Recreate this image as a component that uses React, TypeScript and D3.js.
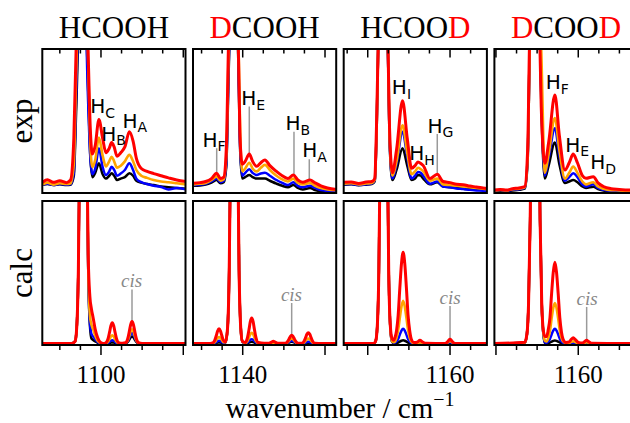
import React from 'react';
import * as d3 from 'd3';

// ---------- layout ----------
const WIDTH = 630;
const HEIGHT = 423;
const PANEL_LEFT = 42.3;
const PANEL_W = 143.2;
const PANEL_STEP = 150.7;
const ROW_TOP = [49, 201];
const ROW_H = 144;
const PX_PER_CM = 8.23;

const SERIF = '"Liberation Serif", "Times New Roman", serif';
const SANS = '"DejaVu Sans", sans-serif';

// series order: drawn first to last
const seriesColors = ['#000000', '#0000ff', '#ffa500', '#ff0000'];
const seriesWidths = [2.5, 2.5, 2.6, 3];

// ---------- panels ----------
const titles = ['HCOOH', 'DCOOH', 'HCOOD', 'DCOOD'];
const panelStarts = [1092.87, 1133.96, 1147.08, 1149.81];
const tickLabelValues = [1100, 1140, 1160, 1160];

// ---------- experimental spectra ----------
const hcoohExpWn = [1092.9, 1093.5, 1094.2, 1095.0, 1095.8, 1096.3, 1096.7, 1097.0, 1097.5, 1098.0, 1098.4, 1098.7, 1098.95, 1099.3, 1099.75, 1100.2, 1100.6, 1101.0, 1101.3, 1101.6, 1101.95, 1102.4, 1102.9, 1103.45, 1103.9, 1104.3, 1104.9, 1105.6, 1106.4, 1107.3, 1108.2, 1109.2, 1110.3];
const hcoohExpBlack = [0.058, 0.062, 0.056, 0.06, 0.056, 0.058, 0.12, 0.6, 1.5, 1.5, 0.8, 0.26, 0.11, 0.14, 0.206, 0.13, 0.1, 0.12, 0.137, 0.12, 0.09, 0.1, 0.11, 0.137, 0.12, 0.085, 0.072, 0.062, 0.055, 0.045, 0.04, 0.035, 0.03];
const hcoohExpBlue = [0.058, 0.065, 0.055, 0.062, 0.058, 0.06, 0.14, 0.7, 1.6, 1.5, 0.7, 0.25, 0.13, 0.17, 0.31, 0.18, 0.125, 0.15, 0.183, 0.16, 0.12, 0.135, 0.16, 0.206, 0.16, 0.1, 0.075, 0.062, 0.05, 0.042, 0.025, 0.035, 0.025];
const hcoohExpOrange = [0.06, 0.072, 0.058, 0.068, 0.062, 0.066, 0.2, 0.85, 1.6, 1.6, 1.0, 0.35, 0.18, 0.23, 0.385, 0.26, 0.185, 0.22, 0.252, 0.22, 0.175, 0.19, 0.22, 0.265, 0.22, 0.16, 0.12, 0.105, 0.09, 0.08, 0.075, 0.068, 0.06];
const hcoohExpRed = [0.075, 0.092, 0.074, 0.085, 0.072, 0.09, 0.38, 1.05, 1.6, 1.6, 1.05, 0.45, 0.27, 0.33, 0.51, 0.38, 0.28, 0.31, 0.35, 0.32, 0.255, 0.28, 0.32, 0.425, 0.36, 0.24, 0.17, 0.15, 0.135, 0.12, 0.105, 0.09, 0.08];

const dcoohExpWn = [1134.0, 1134.8, 1135.5, 1136.2, 1136.84, 1137.3, 1137.7, 1138.0, 1138.3, 1138.8, 1139.45, 1139.7, 1139.95, 1140.3, 1140.8, 1141.2, 1141.7, 1142.2, 1142.7, 1143.3, 1144.1, 1144.8, 1145.5, 1146.15, 1146.7, 1147.3, 1148.18, 1148.8, 1149.5, 1150.3, 1151.4];
const dcoohExpBlack = [0.05, 0.052, 0.058, 0.072, 0.09, 0.068, 0.075, 0.18, 0.85, 1.7, 0.95, 0.28, 0.1, 0.11, 0.125, 0.11, 0.1, 0.1, 0.1, 0.085, 0.065, 0.05, 0.04, 0.055, 0.035, 0.025, 0.035, 0.02, 0.01, 0.006, 0.005];
const dcoohExpBlue = [0.055, 0.058, 0.064, 0.08, 0.1, 0.075, 0.085, 0.2, 0.9, 1.7, 1.0, 0.3, 0.12, 0.14, 0.165, 0.14, 0.125, 0.135, 0.14, 0.12, 0.09, 0.07, 0.055, 0.075, 0.05, 0.04, 0.05, 0.035, 0.02, 0.015, 0.01];
const dcoohExpOrange = [0.06, 0.064, 0.07, 0.09, 0.115, 0.085, 0.095, 0.25, 1.0, 1.7, 1.15, 0.4, 0.15, 0.17, 0.21, 0.17, 0.15, 0.175, 0.195, 0.16, 0.12, 0.095, 0.08, 0.1, 0.07, 0.06, 0.07, 0.05, 0.035, 0.025, 0.02];
const dcoohExpRed = [0.067, 0.072, 0.08, 0.1, 0.137, 0.1, 0.11, 0.3, 1.1, 1.7, 1.05, 0.35, 0.2, 0.22, 0.27, 0.22, 0.185, 0.21, 0.23, 0.19, 0.15, 0.12, 0.1, 0.125, 0.09, 0.075, 0.09, 0.07, 0.05, 0.035, 0.025];

const hcoodExpWn = [1147.1, 1148.0, 1148.9, 1149.8, 1150.5, 1150.85, 1151.1, 1151.3, 1151.85, 1152.45, 1152.65, 1153.0, 1153.5, 1154.23, 1154.8, 1155.33, 1155.75, 1156.1, 1156.45, 1156.75, 1157.56, 1158.45, 1159.15, 1160.0, 1160.8, 1161.6, 1162.4, 1163.2, 1164.0, 1164.6];
const hcoodExpBlack = [0.058, 0.06, 0.054, 0.058, 0.062, 0.08, 0.48, 1.1, 1.7, 1.0, 0.36, 0.09, 0.16, 0.31, 0.19, 0.09, 0.1, 0.125, 0.12, 0.1, 0.06, 0.075, 0.045, 0.04, 0.035, 0.03, 0.026, 0.022, 0.02, 0.018];
const hcoodExpBlue = [0.06, 0.062, 0.055, 0.06, 0.066, 0.085, 0.5, 1.1, 1.7, 1.0, 0.38, 0.1, 0.2, 0.426, 0.25, 0.1, 0.12, 0.145, 0.14, 0.12, 0.065, 0.08, 0.045, 0.04, 0.032, 0.028, 0.022, 0.018, 0.015, 0.012];
const hcoodExpOrange = [0.065, 0.068, 0.06, 0.066, 0.07, 0.09, 0.5, 1.1, 1.7, 1.05, 0.4, 0.12, 0.22, 0.47, 0.28, 0.13, 0.15, 0.175, 0.165, 0.15, 0.085, 0.1, 0.06, 0.055, 0.05, 0.045, 0.04, 0.035, 0.03, 0.025];
const hcoodExpRed = [0.075, 0.076, 0.066, 0.076, 0.08, 0.1, 0.55, 1.1, 1.7, 1.05, 0.45, 0.14, 0.3, 0.64, 0.38, 0.172, 0.19, 0.215, 0.205, 0.19, 0.1, 0.13, 0.08, 0.072, 0.06, 0.058, 0.048, 0.042, 0.035, 0.03];

const dcoodExpWn = [1149.76, 1150.5, 1151.3, 1152.0, 1152.8, 1153.5, 1153.85, 1154.1, 1154.7, 1155.33, 1155.5, 1155.94, 1156.4, 1157.16, 1157.7, 1158.38, 1158.9, 1159.39, 1159.9, 1160.5, 1160.94, 1161.83, 1162.4, 1163.05, 1164.0, 1165.0, 1166.0, 1167.2];
const dcoodExpBlack = [0.012, 0.016, 0.013, 0.018, 0.022, 0.03, 0.22, 1.0, 1.7, 1.1, 0.65, 0.1, 0.19, 0.35, 0.2, 0.07, 0.08, 0.09, 0.075, 0.045, 0.035, 0.044, 0.028, 0.018, 0.012, 0.01, 0.008, 0.008];
const dcoodExpBlue = [0.015, 0.02, 0.016, 0.022, 0.026, 0.035, 0.25, 1.0, 1.7, 1.1, 0.7, 0.12, 0.24, 0.45, 0.26, 0.085, 0.11, 0.137, 0.11, 0.06, 0.045, 0.06, 0.035, 0.022, 0.015, 0.012, 0.01, 0.01];
const dcoodExpOrange = [0.018, 0.022, 0.018, 0.026, 0.03, 0.04, 0.25, 1.0, 1.7, 1.3, 1.0, 0.14, 0.27, 0.52, 0.3, 0.1, 0.14, 0.183, 0.14, 0.08, 0.06, 0.075, 0.045, 0.03, 0.02, 0.018, 0.015, 0.015];
const dcoodExpRed = [0.02, 0.025, 0.02, 0.03, 0.035, 0.045, 0.3, 1.1, 1.7, 1.05, 0.6, 0.206, 0.35, 0.68, 0.4, 0.16, 0.21, 0.27, 0.21, 0.12, 0.102, 0.113, 0.07, 0.045, 0.03, 0.025, 0.02, 0.02];

// ---------- calculated spectra ----------
const hcoohCalcWn = [1092.87, 1096.4, 1096.85, 1097.05, 1097.25, 1097.45, 1097.65, 1097.85, 1098.05, 1098.25, 1098.45, 1098.65, 1098.85, 1099.05, 1099.3, 1099.6, 1099.9, 1100.3, 1100.6, 1100.85, 1101.05, 1101.2, 1101.37, 1101.55, 1101.7, 1101.9, 1102.15, 1102.6, 1103.0, 1103.25, 1103.45, 1103.6, 1103.77, 1103.95, 1104.1, 1104.3, 1104.55, 1105.0, 1110.27];
const hcoohCalcBlack = [0, 0, 0.015, 0.11, 0.51, 1.56, 3.04, 3.8, 3.04, 1.56, 0.51, 0.13, 0.035, 0.025, 0.015, 0.005, 0, 0, 0, 0.002, 0.004, 0.007, 0.008, 0.007, 0.004, 0.002, 0, 0, 0.002, 0.011, 0.028, 0.043, 0.05, 0.043, 0.028, 0.011, 0.002, 0, 0];
const hcoohCalcBlue = [0, 0, 0.015, 0.11, 0.51, 1.56, 3.04, 3.8, 3.04, 1.56, 0.52, 0.15, 0.065, 0.05, 0.03, 0.01, 0.002, 0, 0.001, 0.005, 0.013, 0.02, 0.023, 0.02, 0.013, 0.005, 0.001, 0, 0.003, 0.017, 0.042, 0.064, 0.075, 0.064, 0.042, 0.017, 0.003, 0, 0];
const hcoohCalcOrange = [0, 0, 0.015, 0.11, 0.51, 1.56, 3.04, 3.8, 3.04, 1.56, 0.54, 0.2, 0.13, 0.1, 0.055, 0.02, 0.005, 0, 0.002, 0.013, 0.032, 0.049, 0.058, 0.049, 0.032, 0.013, 0.002, 0, 0.004, 0.022, 0.056, 0.085, 0.1, 0.085, 0.056, 0.022, 0.004, 0, 0];
const hcoohCalcRed = [0, 0, 0.015, 0.11, 0.51, 1.56, 3.04, 3.8, 3.04, 1.56, 0.61, 0.33, 0.24, 0.18, 0.1, 0.04, 0.01, 0, 0.006, 0.032, 0.082, 0.124, 0.146, 0.124, 0.082, 0.032, 0.006, 0.002, 0.006, 0.034, 0.087, 0.132, 0.155, 0.132, 0.087, 0.034, 0.006, 0, 0];

const dcoohCalcWn = [1133.96, 1135.8, 1136.35, 1136.6, 1136.8, 1136.95, 1137.12, 1137.3, 1137.45, 1137.65, 1137.9, 1138.16, 1138.36, 1138.56, 1138.76, 1138.96, 1139.16, 1139.36, 1139.56, 1139.76, 1139.96, 1140.32, 1140.57, 1140.77, 1140.92, 1141.09, 1141.27, 1141.42, 1141.62, 1141.87, 1142.6, 1143.2, 1143.5, 1143.72, 1143.95, 1144.25, 1145.18, 1145.43, 1145.63, 1145.78, 1145.95, 1146.13, 1146.28, 1146.48, 1146.73, 1147.2, 1147.45, 1147.65, 1147.8, 1147.97, 1148.15, 1148.3, 1148.5, 1148.75, 1151.4];
const dcoohCalcBlack = [0, 0, 0, 0.002, 0.004, 0.007, 0.008, 0.007, 0.004, 0.002, 0.007, 0.11, 0.51, 1.56, 3.04, 3.8, 3.04, 1.56, 0.51, 0.11, 0.015, 0, 0.003, 0.007, 0.01, 0.012, 0.01, 0.007, 0.003, 0, 0, 0, 0, 0, 0, 0, 0, 0.003, 0.007, 0.01, 0.012, 0.01, 0.007, 0.003, 0, 0, 0.001, 0.003, 0.004, 0.005, 0.004, 0.003, 0.001, 0, 0];
const dcoohCalcBlue = [0, 0, 0.001, 0.004, 0.011, 0.017, 0.02, 0.017, 0.011, 0.004, 0.008, 0.11, 0.51, 1.56, 3.04, 3.8, 3.04, 1.56, 0.51, 0.11, 0.015, 0.001, 0.007, 0.017, 0.026, 0.03, 0.026, 0.017, 0.007, 0.001, 0, 0, 0.001, 0.002, 0.001, 0, 0.001, 0.004, 0.011, 0.017, 0.02, 0.017, 0.011, 0.004, 0.001, 0.001, 0.003, 0.007, 0.011, 0.013, 0.011, 0.007, 0.003, 0.001, 0];
const dcoohCalcOrange = [0, 0, 0.002, 0.01, 0.026, 0.039, 0.046, 0.039, 0.026, 0.01, 0.009, 0.11, 0.51, 1.56, 3.04, 3.8, 3.04, 1.56, 0.51, 0.11, 0.015, 0.003, 0.017, 0.043, 0.065, 0.076, 0.065, 0.043, 0.017, 0.003, 0, 0, 0.004, 0.006, 0.004, 0, 0.001, 0.008, 0.02, 0.03, 0.035, 0.03, 0.02, 0.008, 0.001, 0.001, 0.008, 0.02, 0.03, 0.035, 0.03, 0.02, 0.008, 0.001, 0];
const dcoohCalcRed = [0, 0, 0.004, 0.023, 0.058, 0.088, 0.104, 0.088, 0.058, 0.023, 0.011, 0.11, 0.51, 1.56, 3.04, 3.8, 3.04, 1.56, 0.51, 0.11, 0.015, 0.007, 0.04, 0.1, 0.153, 0.18, 0.153, 0.1, 0.04, 0.007, 0.002, 0.002, 0.01, 0.016, 0.01, 0.002, 0.002, 0.013, 0.032, 0.049, 0.058, 0.049, 0.032, 0.013, 0.002, 0.003, 0.017, 0.043, 0.065, 0.076, 0.065, 0.043, 0.017, 0.003, 0];

const hcoodCalcWn = [1147.08, 1150.7, 1150.95, 1151.15, 1151.35, 1151.55, 1151.75, 1151.95, 1152.15, 1152.35, 1152.55, 1152.75, 1152.95, 1153.17, 1153.3, 1153.5, 1153.7, 1153.9, 1154.1, 1154.3, 1154.5, 1154.7, 1154.9, 1155.1, 1155.3, 1155.6, 1156.0, 1156.34, 1156.7, 1157.1, 1159.4, 1159.6, 1159.8, 1160.0, 1160.2, 1160.4, 1160.6, 1164.5];
const hcoodCalcBlack = [0, 0, 0.015, 0.11, 0.51, 1.56, 3.04, 3.8, 3.04, 1.56, 0.51, 0.11, 0.015, 0.002, 0.001, 0.003, 0.007, 0.014, 0.02, 0.023, 0.02, 0.014, 0.007, 0.003, 0.001, 0, 0, 0.001, 0, 0, 0, 0.001, 0.003, 0.005, 0.003, 0.001, 0, 0];
const hcoodCalcBlue = [0, 0, 0.015, 0.11, 0.51, 1.56, 3.04, 3.8, 3.04, 1.56, 0.51, 0.11, 0.015, 0.005, 0.005, 0.014, 0.033, 0.063, 0.091, 0.104, 0.091, 0.063, 0.033, 0.014, 0.005, 0.001, 0.002, 0.003, 0.002, 0, 0, 0.002, 0.006, 0.01, 0.006, 0.002, 0, 0];
const hcoodCalcOrange = [0, 0, 0.015, 0.11, 0.51, 1.56, 3.04, 3.8, 3.04, 1.56, 0.51, 0.11, 0.016, 0.01, 0.013, 0.04, 0.096, 0.18, 0.26, 0.3, 0.26, 0.18, 0.096, 0.04, 0.013, 0.003, 0.004, 0.008, 0.004, 0, 0, 0.004, 0.012, 0.018, 0.012, 0.004, 0, 0];
const hcoodCalcRed = [0, 0, 0.015, 0.11, 0.51, 1.56, 3.04, 3.8, 3.04, 1.56, 0.51, 0.12, 0.035, 0.023, 0.04, 0.09, 0.2, 0.39, 0.56, 0.64, 0.56, 0.39, 0.2, 0.09, 0.03, 0.008, 0.01, 0.023, 0.01, 0.002, 0, 0.006, 0.02, 0.03, 0.02, 0.006, 0, 0];

const dcoodCalcWn = [1149.81, 1153.5, 1153.76, 1153.96, 1154.16, 1154.36, 1154.56, 1154.76, 1154.96, 1155.16, 1155.36, 1155.56, 1155.76, 1155.95, 1156.16, 1156.36, 1156.56, 1156.76, 1156.96, 1157.16, 1157.36, 1157.56, 1157.76, 1157.96, 1158.16, 1158.5, 1158.9, 1159.15, 1159.39, 1159.65, 1160.0, 1160.5, 1160.8, 1161.02, 1161.25, 1161.6, 1167.2];
const dcoodCalcBlack = [0, 0.005, 0.065, 0.28, 0.87, 1.98, 3.23, 3.8, 3.23, 1.98, 0.87, 0.28, 0.066, 0.004, 0.001, 0.003, 0.007, 0.013, 0.019, 0.022, 0.019, 0.013, 0.007, 0.003, 0.001, 0, 0, 0.001, 0.001, 0.001, 0, 0, 0, 0.001, 0, 0, 0];
const dcoodCalcBlue = [0, 0.005, 0.065, 0.28, 0.87, 1.98, 3.23, 3.8, 3.23, 1.98, 0.87, 0.282, 0.07, 0.008, 0.005, 0.014, 0.033, 0.064, 0.091, 0.104, 0.091, 0.064, 0.033, 0.014, 0.005, 0.001, 0.002, 0.004, 0.006, 0.004, 0.001, 0, 0.002, 0.004, 0.002, 0, 0];
const dcoodCalcOrange = [0, 0.005, 0.065, 0.28, 0.87, 1.98, 3.23, 3.8, 3.23, 1.98, 0.87, 0.285, 0.075, 0.02, 0.015, 0.04, 0.09, 0.175, 0.25, 0.285, 0.25, 0.175, 0.09, 0.04, 0.015, 0.004, 0.006, 0.012, 0.016, 0.011, 0.003, 0.002, 0.006, 0.01, 0.006, 0.001, 0];
const dcoodCalcRed = [0, 0.01, 0.065, 0.28, 0.87, 1.98, 3.23, 3.8, 3.23, 1.98, 0.87, 0.29, 0.09, 0.05, 0.05, 0.1, 0.18, 0.35, 0.5, 0.571, 0.5, 0.35, 0.18, 0.08, 0.03, 0.008, 0.012, 0.03, 0.04, 0.028, 0.008, 0.004, 0.015, 0.023, 0.014, 0.002, 0];

const expWn = [hcoohExpWn, dcoohExpWn, hcoodExpWn, dcoodExpWn];
const expSeries = [
  [hcoohExpBlack, hcoohExpBlue, hcoohExpOrange, hcoohExpRed],
  [dcoohExpBlack, dcoohExpBlue, dcoohExpOrange, dcoohExpRed],
  [hcoodExpBlack, hcoodExpBlue, hcoodExpOrange, hcoodExpRed],
  [dcoodExpBlack, dcoodExpBlue, dcoodExpOrange, dcoodExpRed],
];
const calcWn = [hcoohCalcWn, dcoohCalcWn, hcoodCalcWn, dcoodCalcWn];
const calcSeries = [
  [hcoohCalcBlack, hcoohCalcBlue, hcoohCalcOrange, hcoohCalcRed],
  [dcoohCalcBlack, dcoohCalcBlue, dcoohCalcOrange, dcoohCalcRed],
  [hcoodCalcBlack, hcoodCalcBlue, hcoodCalcOrange, hcoodCalcRed],
  [dcoodCalcBlack, dcoodCalcBlue, dcoodCalcOrange, dcoodCalcRed],
];

// ---------- band assignments ----------
const expLabels = [
  [{ sub: 'C', wn: 1098.69, at: 0.553 }, { sub: 'B', wn: 1100.02, at: 0.362 }, { sub: 'A', wn: 1102.61, at: 0.453 }],
  [{ sub: 'F', wn: 1135.12, at: 0.32 }, { sub: 'E', wn: 1139.82, at: 0.611 }, { sub: 'B', wn: 1145.2, at: 0.4375 }, { sub: 'A', wn: 1147.24, at: 0.25 }],
  [{ sub: 'I', wn: 1152.93, at: 0.6875 }, { sub: 'H', wn: 1155.04, at: 0.229 }, { sub: 'G', wn: 1157.27, at: 0.417 }],
  [{ sub: 'F', wn: 1156.05, at: 0.72 }, { sub: 'E', wn: 1158.41, at: 0.287 }, { sub: 'D', wn: 1161.45, at: 0.165 }],
];
const expLeaders = [
  [],
  [{ wn: 1136.84, from: 0.31, to: 0.139 }, { wn: 1140.8, from: 0.6, to: 0.278 }, { wn: 1146.23, from: 0.425, to: 0.118 }, { wn: 1148.09, from: 0.235, to: 0.09 }],
  [{ wn: 1158.45, from: 0.41, to: 0.125 }],
  [],
];
const cisLabels = [
  { wn: 1103.73, at: 0.4, lineWn: 1103.77, from: 0.38, to: 0.155 },
  { wn: 1145.92, at: 0.3, lineWn: 1145.95, from: 0.285, to: 0.058 },
  { wn: 1160.0, at: 0.278, lineWn: 1160.0, from: 0.264, to: 0.03 },
  { wn: 1161.08, at: 0.273, lineWn: 1161.02, from: 0.257, to: 0.023 },
];

const GREY = '#9a9a9a';
const LABEL_SIZE = 20;
const SUB_SIZE = 14;

function Title({ name, cx }: { name: string; cx: number }) {
  return (
    <text x={cx} y={38.3} textAnchor="middle" fontFamily={SERIF} fontSize={31}>
      {name.split('').map((ch, i) => (
        <tspan key={i} fill={ch === 'D' ? '#ff0000' : '#000000'}>{ch}</tspan>
      ))}
    </text>
  );
}

export default function App() {
  const panels = titles.map((t, i) => {
    const left = PANEL_LEFT + i * PANEL_STEP;
    const start = panelStarts[i];
    const end = start + PANEL_W / PX_PER_CM;
    const x = d3.scaleLinear().domain([start, end]).range([left, left + PANEL_W]);
    return { left, start, end, x };
  });

  const yExp = d3.scaleLinear().domain([0, 1]).range([ROW_TOP[0] + ROW_H, ROW_TOP[0]]);
  const yCalc = d3.scaleLinear().domain([-0.01, 1]).range([ROW_TOP[1] + ROW_H, ROW_TOP[1]]);

  const ticksFor = (start: number, end: number) => {
    const out: { v: number; major: boolean }[] = [];
    for (let k = Math.ceil(start / 2.5); k * 2.5 <= end; k++) out.push({ v: k * 2.5, major: k % 4 === 0 });
    return out;
  };

  return (
    <svg width={WIDTH} height={HEIGHT} style={{ position: 'absolute', left: 0, top: 0, background: '#fff' }}>
      <defs>
        {panels.map((p, i) =>
          [0, 1].map((r) => (
            <clipPath id={`clip-${r}-${i}`} key={`c${r}${i}`}>
              <rect x={p.left} y={ROW_TOP[r]} width={PANEL_W} height={ROW_H} />
            </clipPath>
          ))
        )}
      </defs>

      {titles.map((t, i) => (
        <Title key={t} name={t} cx={panels[i].left + PANEL_W / 2} />
      ))}

      {/* row labels */}
      <text transform={`translate(32,${ROW_TOP[0] + ROW_H / 2}) rotate(-90)`} textAnchor="middle" fontFamily={SERIF} fontSize={31}>exp</text>
      <text transform={`translate(32,${ROW_TOP[1] + ROW_H / 2}) rotate(-90)`} textAnchor="middle" fontFamily={SERIF} fontSize={31}>calc</text>

      {panels.map((p, i) => {
        const rows = [
          { wn: expWn[i], series: expSeries[i], y: yExp },
          { wn: calcWn[i], series: calcSeries[i], y: yCalc },
        ];
        return (
          <g key={i}>
            {rows.map((row, r) => {
              const line = d3
                .line<[number, number]>()
                .x((d) => p.x(d[0]))
                .y((d) => row.y(d[1]))
                .curve(d3.curveMonotoneX);
              return (
                <g key={r}>
                  <g clipPath={`url(#clip-${r}-${i})`}>
                    {r === 0 &&
                      expLeaders[i].map((l, j) => (
                        <line key={j} x1={p.x(l.wn)} x2={p.x(l.wn)} y1={row.y(l.from)} y2={row.y(l.to)} stroke={GREY} strokeWidth={1.5} />
                      ))}
                    {r === 1 && (
                      <line
                        x1={p.x(cisLabels[i].lineWn)}
                        x2={p.x(cisLabels[i].lineWn)}
                        y1={row.y(cisLabels[i].from)}
                        y2={row.y(cisLabels[i].to)}
                        stroke={GREY}
                        strokeWidth={1.5}
                      />
                    )}
                    {row.series.map((vals, s) => (
                      <path
                        key={s}
                        d={line(row.wn.map((w, j) => [w, vals[j]] as [number, number])) || ''}
                        fill="none"
                        stroke={seriesColors[s]}
                        strokeWidth={seriesWidths[s]}
                        strokeLinejoin="round"
                      />
                    ))}
                  </g>
                  <rect x={p.left} y={ROW_TOP[r]} width={PANEL_W} height={ROW_H} fill="none" stroke="#000" strokeWidth={2} />
                </g>
              );
            })}

            {/* ticks: inward along the top of the upper row, outward below the lower row */}
            {ticksFor(p.start, p.end).map((t, j) => {
              const xx = p.x(t.v);
              return (
                <g key={j}>
                  <line x1={xx} x2={xx} y1={ROW_TOP[0]} y2={ROW_TOP[0] + (t.major ? 8.5 : 4.5)} stroke="#000" strokeWidth={1.5} />
                  <line x1={xx} x2={xx} y1={ROW_TOP[1] + ROW_H} y2={ROW_TOP[1] + ROW_H + (t.major ? 10 : 5)} stroke="#000" strokeWidth={1.5} />
                </g>
              );
            })}
            <text x={p.x(tickLabelValues[i])} y={383.3} textAnchor="middle" fontFamily={SERIF} fontSize={25}>
              {tickLabelValues[i]}
            </text>

            {/* band labels: H with the band letter as a subscript */}
            {expLabels[i].map((l, j) => {
              const lx = p.x(l.wn);
              const ly = yExp(l.at);
              return (
                <g key={j} fontFamily={SANS}>
                  <text x={lx} y={ly} fontSize={LABEL_SIZE}>H</text>
                  <text x={lx + LABEL_SIZE * 0.752} y={ly + 4.5} fontSize={SUB_SIZE}>{l.sub}</text>
                </g>
              );
            })}
            <text x={p.x(cisLabels[i].wn)} y={yCalc(cisLabels[i].at)} textAnchor="middle" fontFamily={SERIF} fontStyle="italic" fontSize={19} fill="#888">
              cis
            </text>
          </g>
        );
      })}

      <text x={340} y={418} textAnchor="middle" fontFamily={SERIF} fontSize={29}>
        wavenumber / cm<tspan fontSize={20} dy={-12}>−1</tspan>
      </text>
    </svg>
  );
}
